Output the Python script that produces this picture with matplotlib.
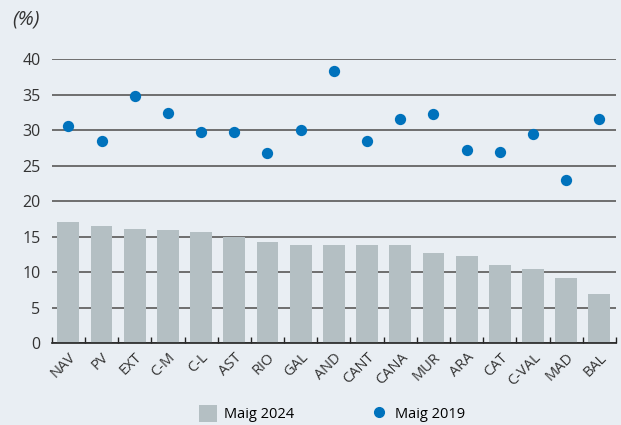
import numpy as np
import matplotlib.pyplot as plt
from matplotlib.lines import Line2D
from matplotlib.patches import Patch

plt.rcParams['font.family'] = ['Open Sans', 'DejaVu Sans']

regions = ["NAV", "PV", "EXT", "C-M", "C-L", "AST", "RIO", "GAL", "AND",
           "CANT", "CANA", "MUR", "ARA", "CAT", "C-VAL", "MAD", "BAL"]
may_2024 = [17.1, 16.5, 16.05, 15.9, 15.6, 14.9, 14.2, 13.9, 13.8,
            13.8, 13.8, 12.7, 12.25, 11.0, 10.5, 9.25, 6.9]
may_2019 = [30.55, 28.5, 34.8, 32.4, 29.7, 29.7, 26.8, 30.0, 38.3,
            28.45, 31.6, 32.25, 27.2, 26.9, 29.5, 22.95, 31.6]

bg = "#e9eef3"
bar_c = "#b4bfc3"
dot_c = "#0072bc"
txt_c = "#333333"

fig = plt.figure(figsize=(6.21, 4.25), dpi=100, facecolor=bg)
ax = fig.add_axes([0.0833, 0.1922, 0.9087, 0.669])
ax.set_facecolor(bg)

x = np.arange(len(regions))
ax.set_axisbelow(True)
ax.yaxis.grid(True, color="#6e6e6e", linewidth=1.4)
ax.bar(x, may_2024, width=0.66, color=bar_c, zorder=2)
ax.scatter(x, may_2019, s=66, color=dot_c, zorder=3, linewidths=0)

ax.set_xlim(-0.5, len(regions) - 0.5)
ax.set_ylim(0, 40)
ax.set_yticks(range(0, 41, 5))
ax.tick_params(axis="y", length=0, pad=8, labelsize=11.5, labelcolor=txt_c)

ax.set_xticks(x)
ax.set_xticklabels(regions, rotation=45, ha="right", rotation_mode="anchor",
                   fontsize=10.5, color=txt_c)
ax.tick_params(axis="x", which="major", length=0, pad=5)
ax.set_xticks(np.arange(-0.5, len(regions), 1), minor=True)
ax.tick_params(axis="x", which="minor", direction="in", length=4,
               color="#222222", width=1)

for s in ["top", "right", "left"]:
    ax.spines[s].set_visible(False)
ax.spines["bottom"].set_color("#222222")
ax.spines["bottom"].set_linewidth(1.2)
ax.spines["bottom"].set_zorder(4)

fig.text(0.02, 0.955, "(%)", fontsize=14.5, style="italic", color=txt_c,
         va="center", ha="left")

handles = [Patch(facecolor=bar_c, edgecolor="none", label="Maig 2024"),
           Line2D([], [], marker="o", linestyle="none", color=dot_c,
                  markersize=7, label="Maig 2019")]
fig.legend(handles=handles, loc="lower center", bbox_to_anchor=(0.535, -0.025),
           ncol=2, frameon=False, fontsize=10.5, handlelength=1.2,
           handleheight=1.4, columnspacing=5.2, handletextpad=0.5)

fig.savefig("out.png", dpi=100, facecolor=bg)
